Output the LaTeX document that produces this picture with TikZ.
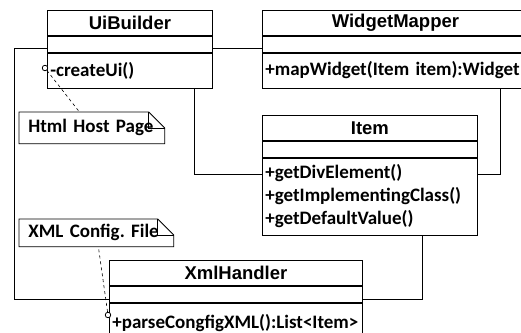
\documentclass[tikz,border=0pt]{standalone}
\usepackage{fontspec}
\setmainfont{Carlito}
\newfontfamily\titlefont{Liberation Sans}
\usetikzlibrary{positioning, calc}
\frenchspacing

\tikzset{
	classtitle/.style = {draw, rectangle, anchor=north west, inner sep=0pt, minimum height=25pt,
		font=\titlefont\bfseries\fontsize{18.5}{20}\selectfont},
	classattr/.style = {draw, rectangle, inner sep=0pt, minimum height=16pt},
	classops/.style = {draw, rectangle, align=left, inner xsep=3pt, inner ysep=0pt,
		font=\bfseries\fontsize{19}{23}\selectfont},
	notebox/.style = {rectangle, anchor=north west, align=left, inner xsep=9pt, inner ysep=0pt,
		font=\bfseries\fontsize{19}{23}\selectfont},
	port/.style = {circle, draw, fill=white, inner sep=0pt, minimum size=5.5pt},
}

\begin{document}
\begin{tikzpicture}[x=1pt, y=-1pt, line width=0.8pt]
	\useasboundingbox (0,0) rectangle (521,332);

	% classes
	\node[classtitle, minimum width=165pt] (ui) at (47,10) {UiBuilder};
	\node[classattr, minimum width=165pt, below=0pt of ui] (uiattr) {};
	\node[classops, text width=159pt, minimum height=35pt, below=0pt of uiattr] (uiops) {-createUi()};

	\node[classtitle, minimum width=266pt] (wm) at (262,10) {WidgetMapper};
	\node[classattr, minimum width=266pt, below=0pt of wm] (wmattr) {};
	\node[classops, text width=260pt, minimum height=35pt, below=0pt of wmattr] (wmops) {+mapWidget(Item item):Widget};

	\node[classtitle, minimum width=215pt] (item) at (262,115) {Item};
	\node[classattr, minimum width=215pt, below=0pt of item] (itemattr) {};
	\node[classops, text width=209pt, minimum height=77pt, below=0pt of itemattr] (itemops) {+getDivElement()\\+getImplementingClass()\\+getDefaultValue()};

	\node[classtitle, minimum width=253pt] (xml) at (109,260) {XmlHandler};
	\node[classattr, minimum width=253pt, below=0pt of xml] (xmlattr) {};
	\node[classops, text width=247pt, minimum height=40pt, below=0pt of xmlattr] (xmlops) {+parseCongfigXML():List<Item>};

	% associations
	\draw ([yshift=-4pt]uiattr.east) -- ([yshift=-4pt]wmattr.west);
	\draw ([yshift=-4pt]uiattr.west) -- ++(-33,0) |- ([yshift=-14pt]xmlattr.north west);
	\draw ([xshift=-18pt]uiops.south east) |- ([yshift=-17pt]itemops.north west);
	\draw ([xshift=238pt]wmops.south west) |- ([yshift=-17pt]itemops.north east);
	\draw ([xshift=-55pt]itemops.south east) |- ([yshift=-14pt]xmlattr.north east);

	% notes
	\node[notebox, text width=127pt, minimum height=31pt] (hostnote) at (19,112) {Html Host Page};
	\node[notebox, text width=136pt, minimum height=27pt] (xmlnote) at (19,219) {XML Config. File};
	\foreach \n in {hostnote, xmlnote} {
		\draw (\n.north west) -- ([xshift=-16pt]\n.north east) -- ([yshift=-16pt]\n.north east)
			-- (\n.south east) -- (\n.south west) -- cycle;
		\draw ([xshift=-16pt]\n.north east) |- ([yshift=-16pt]\n.north east);
	}

	\node[port] (uiport) at (45,68) {};
	\node[port] (xmlport) at (108,315) {};
	\draw[dashed, line width=0.6pt] (uiport) -- (hostnote);
	\draw[dashed, line width=0.6pt] (xmlport) -- (xmlnote);
\end{tikzpicture}
\end{document}
